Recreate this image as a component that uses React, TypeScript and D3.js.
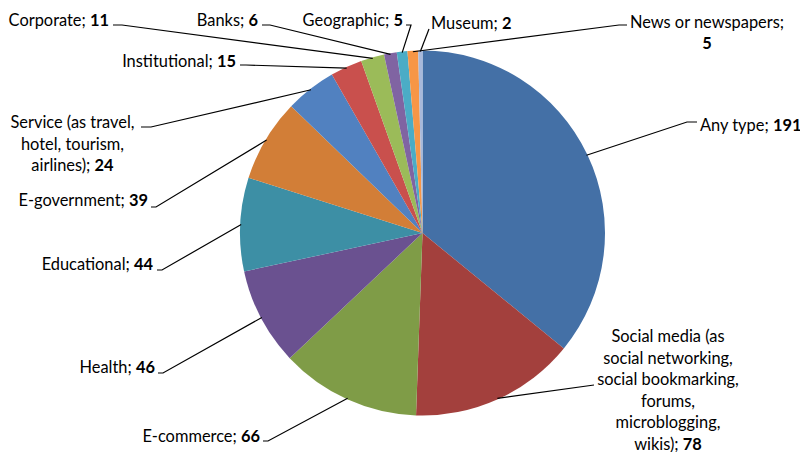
import React from "react";
import * as d3 from "d3";

const categories = [
  "Any type",
  "Social media",
  "E-commerce",
  "Health",
  "Educational",
  "E-government",
  "Service",
  "Institutional",
  "Corporate",
  "Banks",
  "Geographic",
  "News or newspapers",
  "Museum",
];
const values = [191, 78, 66, 46, 44, 39, 24, 15, 11, 6, 5, 5, 2];

const colors = [
  "#4470A6", "#A3403D", "#7F9C47", "#6A5190", "#3D8FA5", "#D27E37",
  "#5181C0", "#C9504D", "#9BBB59", "#8064A2", "#4BACC6", "#F79646", "#A8B9DB",
];

type Label = {
  lines: string[];
  x: number;
  y: number;
  anchor: "start" | "middle" | "end";
  lh: number;
  lead: [number, number, number, number];
};

const labels: Label[] = [
  { lines: ["Any type; {v}"], x: 700, y: 131, anchor: "start", lh: 0, lead: [697, 122, 687, 122] },
  { lines: ["Social media (as", "social networking,", "social bookmarking,", "forums,", "microblogging,", "wikis); {v}"], x: 668, y: 342, anchor: "middle", lh: 21.6, lead: [594, 385, 594, 385] },
  { lines: ["E-commerce; {v}"], x: 260, y: 442, anchor: "end", lh: 0, lead: [263, 441, 268, 441] },
  { lines: ["Health; {v}"], x: 155, y: 373, anchor: "end", lh: 0, lead: [158, 373, 163, 373] },
  { lines: ["Educational; {v}"], x: 153, y: 270, anchor: "end", lh: 0, lead: [157, 270, 162, 270] },
  { lines: ["E-government; {v}"], x: 148, y: 206, anchor: "end", lh: 0, lead: [151, 207, 156, 207] },
  { lines: ["Service (as travel,", "hotel, tourism,", "airlines); {v}"], x: 72.5, y: 128, anchor: "middle", lh: 21.6, lead: [141, 127, 151, 127] },
  { lines: ["Institutional; {v}"], x: 236, y: 67, anchor: "end", lh: 0, lead: [240, 65, 246, 65] },
  { lines: ["Corporate; {v}"], x: 109, y: 26, anchor: "end", lh: 0, lead: [113, 25, 122, 25] },
  { lines: ["Banks; {v}"], x: 258, y: 26, anchor: "end", lh: 0, lead: [262, 25, 270, 25] },
  { lines: ["Geographic; {v}"], x: 403, y: 26, anchor: "end", lh: 0, lead: [406, 25, 411, 25] },
  { lines: ["News or newspapers;", "{v}"], x: 707, y: 28, anchor: "middle", lh: 21, lead: [627, 25, 619, 25] },
  { lines: ["Museum; {v}"], x: 431, y: 29, anchor: "start", lh: 0, lead: [429, 29, 429, 29] },
];

const cx = 422.5;
const cy = 233;
const R = 182.5;

export default function App() {
  const pie = d3.pie<number>().sort(null).value((d) => d);
  const arcs = pie(values);
  const arc = d3.arc<d3.PieArcDatum<number>>().innerRadius(0).outerRadius(R);

  return (
    <svg
      width={800}
      height={452}
      style={{ position: "absolute", left: 0, top: 0, background: "#fff" }}
      fontFamily="Lato, 'Open Sans', sans-serif"
      fontSize={16.4}
    >
      <rect width={800} height={452} fill="#fff" />
      <g transform={`translate(${cx},${cy})`}>
        {arcs.map((a, i) => (
          <path key={i} d={arc(a) || ""} fill={colors[i]} />
        ))}
      </g>
      {arcs.map((a, i) => {
        const L = labels[i];
        const mid = (a.startAngle + a.endAngle) / 2;
        const tx = cx + (R - 1) * Math.sin(mid);
        const ty = cy - (R - 1) * Math.cos(mid);
        const [x0, y0, x1, y1] = L.lead;
        return (
          <g key={i}>
            <polyline
              points={`${x0},${y0} ${x1},${y1} ${tx},${ty}`}
              fill="none"
              stroke="#000"
              strokeWidth={1.2}
            />
            <text textAnchor={L.anchor} fill="#000">
              {L.lines.map((ln, j) => {
                const parts = ln.split("{v}");
                return (
                  <tspan key={j} x={L.x} y={L.y + j * L.lh}>
                    {parts[0]}
                    {parts.length > 1 && <tspan fontWeight="bold">{values[i]}</tspan>}
                    {parts.length > 1 ? parts[1] : ""}
                  </tspan>
                );
              })}
            </text>
          </g>
        );
      })}
    </svg>
  );
}
